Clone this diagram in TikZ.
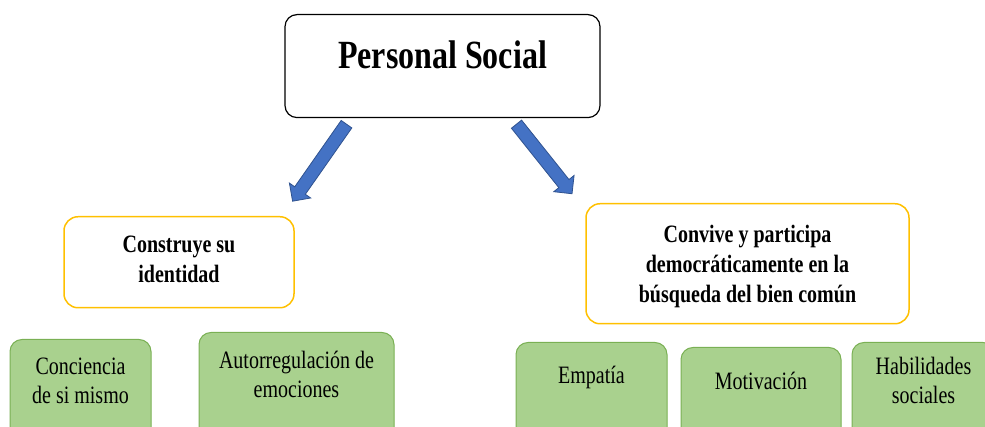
\documentclass[tikz,border=0pt]{standalone}
\usepackage{fontspec}
\setmainfont{Liberation Serif}[FakeStretch=0.8]

\definecolor{compyellow}{RGB}{255,192,0}
\definecolor{skillgreen}{RGB}{169,209,142}
\definecolor{skillline}{RGB}{122,176,84}
\definecolor{arrowblue}{RGB}{68,114,196}
\definecolor{arrowline}{RGB}{47,82,143}

% block arrow: start point, angle, length
\newcommand{\blockarrow}[3]{%
\filldraw[fill=arrowblue, draw=arrowline, line width=0.8pt, shift={#1}, rotate=#2]
(0,-6.5) -- (#3-13,-6.5) -- (#3-13,-13) -- (#3,0) -- (#3-13,13) -- (#3-13,6.5) -- (0,6.5) -- cycle;}

\tikzset{
titlebox/.style={draw=black, line width=1.2pt, rounded corners=12pt, fill=white, inner sep=0pt, anchor=north, font=\fontsize{40}{48}\selectfont\bfseries},
compbox/.style={draw=compyellow, line width=1.5pt, rounded corners=14pt, inner sep=0pt, align=center, anchor=north, font=\fontsize{25}{30}\selectfont\bfseries},
skillbox/.style={draw=skillline, fill=skillgreen, line width=1pt, rounded corners=12pt, inner sep=0pt, align=center, anchor=north, text depth=100pt, font=\fontsize{25}{29}\selectfont}
}

\begin{document}
\begin{tikzpicture}[x=1pt, y=1pt]
\useasboundingbox (0,0) rectangle (985,427);
\clip (0,0) rectangle (985,427);

\node[titlebox, minimum width=315pt, text height=54pt, text depth=49pt] (area) at (442.5,413) {Personal Social};

\node[compbox, minimum width=230pt, text height=66pt, text depth=25pt] (ident) at (179,211) {Construye su\\identidad};
\node[compbox, minimum width=323pt, text height=99pt, text depth=21pt] (convive) at (747.5,224) {Convive y participa\\democráticamente en la\\búsqueda del bien común};

\node[skillbox, minimum width=141pt, text height=64pt] (concien) at (80.5,88) {Conciencia\\de si mismo};
\node[skillbox, minimum width=195pt, text height=65pt] (autorreg) at (296.5,95) {Autorregulación de\\emociones};
\node[skillbox, minimum width=151pt, text height=41pt] (empatia) at (591.5,85) {Empatía};
\node[skillbox, minimum width=160pt, text height=42pt] (motiv) at (761,80) {Motivación};
\node[skillbox, minimum width=143pt, text height=61pt] (habil) at (923.5,85) {Habilidades\\sociales};

\blockarrow{([xshift=-96pt, yshift=-6pt]area.south)}{235}{94}
\blockarrow{([xshift=74pt, yshift=-6pt]area.south)}{-51.4}{89}
\end{tikzpicture}
\end{document}
